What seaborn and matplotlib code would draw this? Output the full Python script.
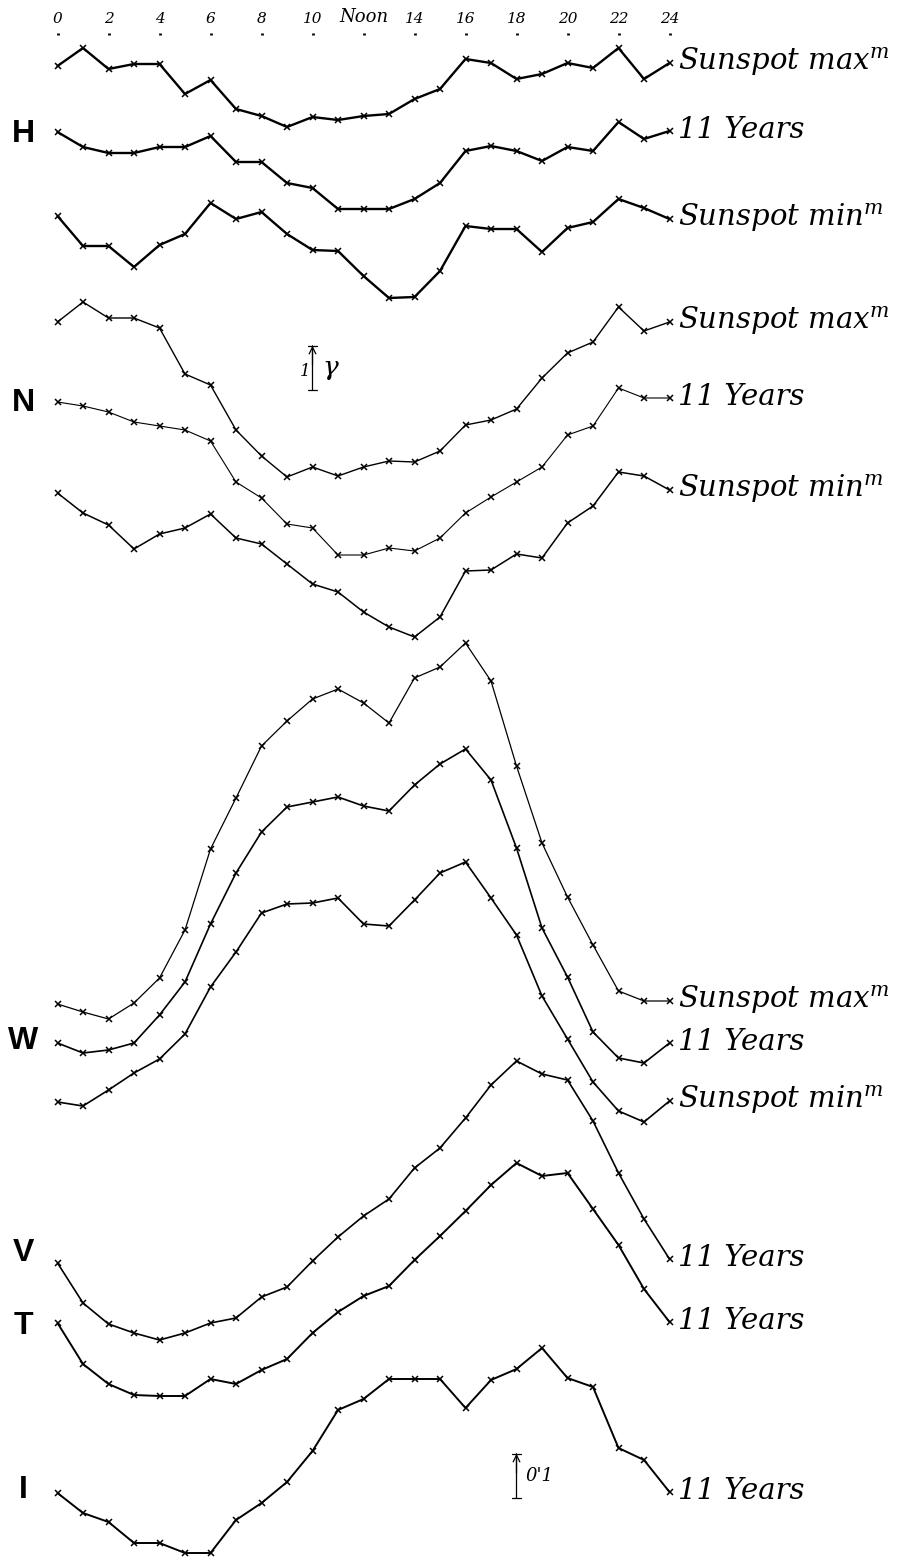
import matplotlib
matplotlib.use("Agg")
import numpy as np
import pandas as pd
import matplotlib.pyplot as plt
import seaborn as sns

HOURS = list(range(25))
TICK_HOURS  = list(range(0, 25, 2))
TICK_LABELS = ['0', '2', '4', '6', '8', '10', 'Noon', '14', '16', '18', '20', '22', '24']

# Departures from the midnight (hour 0) value.
# H, N, W, V, T in gamma; I in minutes of arc.
H_MAX = [0, 0.36, -0.06, 0.04, 0.04, -0.56, -0.28, -0.86, -1.00, -1.22, -1.02, -1.08, -1.00,
         -0.96, -0.66, -0.46, 0.14, 0.06, -0.26, -0.16, 0.06, -0.04, 0.36, -0.26, 0.06]
H_11Y = [0, -0.30, -0.42, -0.42, -0.30, -0.30, -0.08, -0.60, -0.60, -1.02, -1.12, -1.54, -1.54,
         -1.54, -1.34, -1.02, -0.38, -0.28, -0.38, -0.58, -0.30, -0.38, 0.20, -0.14, 0.02]
H_MIN = [0, -0.60, -0.60, -1.02, -0.58, -0.36, 0.26, -0.06, 0.08, -0.36, -0.68, -0.70, -1.20,
         -1.64, -1.62, -1.10, -0.20, -0.26, -0.26, -0.72, -0.24, -0.12, 0.34, 0.16, -0.06]

N_MAX = [0, 0.40, 0.08, 0.08, -0.12, -1.04, -1.26, -2.16, -2.68, -3.10, -2.90, -3.08, -2.90,
         -2.78, -2.80, -2.58, -2.06, -1.96, -1.74, -1.12, -0.62, -0.40, 0.30, -0.18, 0.00]
N_11Y = [0, -0.08, -0.20, -0.40, -0.48, -0.56, -0.78, -1.60, -1.92, -2.44, -2.52, -3.06, -3.06,
         -2.92, -2.98, -2.72, -2.22, -1.90, -1.60, -1.30, -0.66, -0.48, 0.28, 0.08, 0.08]
N_MIN = [0, -0.40, -0.64, -1.12, -0.82, -0.70, -0.42, -0.90, -1.02, -1.42, -1.82, -1.98, -2.38,
         -2.68, -2.88, -2.48, -1.56, -1.54, -1.22, -1.30, -0.60, -0.26, 0.42, 0.34, 0.06]

W_MAX = [0, -0.16, -0.30, 0.02, 0.52, 1.48, 3.10, 4.12, 5.16, 5.66, 6.10, 6.30, 6.02,
         5.62, 6.52, 6.74, 7.22, 6.46, 4.76, 3.22, 2.14, 1.18, 0.26, 0.06, 0.06]
W_11Y = [0, -0.20, -0.14, 0.00, 0.56, 1.22, 2.38, 3.40, 4.22, 4.72, 4.82, 4.92, 4.74,
         4.64, 5.16, 5.58, 5.88, 5.26, 3.90, 2.30, 1.32, 0.22, -0.30, -0.40, 0.00]
W_MIN = [0, -0.08, 0.24, 0.58, 0.86, 1.36, 2.30, 3.00, 3.78, 3.96, 3.98, 4.08, 3.56,
         3.52, 4.04, 4.58, 4.80, 4.08, 3.34, 2.12, 1.26, 0.40, -0.18, -0.40, 0.02]

V_11Y = [0, -0.80, -1.22, -1.40, -1.54, -1.40, -1.20, -1.10, -0.68, -0.48, 0.04, 0.52, 0.94,
         1.28, 1.90, 2.30, 2.90, 3.56, 4.04, 3.78, 3.66, 2.84, 1.80, 0.88, 0.08]
T_11Y = [0, -0.82, -1.22, -1.44, -1.46, -1.46, -1.12, -1.22, -0.94, -0.72, -0.20, 0.22, 0.54,
         0.74, 1.26, 1.74, 2.24, 2.76, 3.20, 2.94, 3.00, 2.28, 1.56, 0.68, 0.02]
I_11Y = [0, -0.040, -0.058, -0.100, -0.100, -0.120, -0.120, -0.054, -0.020, 0.022, 0.084,
         0.166, 0.188, 0.228, 0.228, 0.228, 0.170, 0.226, 0.248, 0.290, 0.230, 0.212, 0.090,
         0.066, 0.002]

MAX_LABEL = "Sunspot max$^{m}$"
MIN_LABEL = "Sunspot min$^{m}$"
YRS_LABEL = "11 Years"

# plate layout: pixel rows of each curve's midnight value, scale in px per unit
PX_PER_GAMMA  = 50
PX_PER_MINUTE = 500
X0_PX, PX_PER_HOUR = 57.5, 25.5
W_PX, H_PX, TOP_PX = 923, 1560, 35

curves = [
    # values, base row, px/unit, label, line width
    (H_MAX, 66,   PX_PER_GAMMA,  MAX_LABEL, 1.7),
    (H_11Y, 132,  PX_PER_GAMMA,  YRS_LABEL, 1.7),
    (H_MIN, 216,  PX_PER_GAMMA,  MIN_LABEL, 1.7),
    (N_MAX, 322,  PX_PER_GAMMA,  MAX_LABEL, 1.0),
    (N_11Y, 402,  PX_PER_GAMMA,  YRS_LABEL, 0.8),
    (N_MIN, 493,  PX_PER_GAMMA,  MIN_LABEL, 1.1),
    (W_MAX, 1004, PX_PER_GAMMA,  MAX_LABEL, 0.9),
    (W_11Y, 1043, PX_PER_GAMMA,  YRS_LABEL, 1.2),
    (W_MIN, 1102, PX_PER_GAMMA,  MIN_LABEL, 1.2),
    (V_11Y, 1263, PX_PER_GAMMA,  YRS_LABEL, 1.2),
    (T_11Y, 1323, PX_PER_GAMMA,  YRS_LABEL, 1.4),
    (I_11Y, 1493, PX_PER_MINUTE, YRS_LABEL, 1.4),
]

elements = [('H', 134), ('N', 403), ('W', 1041), ('V', 1253), ('T', 1326), ('I', 1490)]

sns.set_theme(style="white")
plt.rcParams['font.family'] = ['DejaVu Serif']
plt.rcParams['mathtext.fontset'] = 'dejavuserif'
plt.rcParams['text.color'] = 'black'
plt.rcParams['xtick.color'] = 'black'
plt.rcParams['xtick.labelcolor'] = 'black'

fig = plt.figure(figsize=(W_PX / 100, H_PX / 100), dpi=100)
ax = fig.add_axes([0, 0, 1, (H_PX - TOP_PX) / H_PX])
ax.set_xlim(-X0_PX / PX_PER_HOUR, (W_PX - X0_PX) / PX_PER_HOUR)
ax.set_ylim(H_PX, TOP_PX)

for vals, base, scale, label, lw in curves:
    df = pd.DataFrame({'hour': HOURS, 'value': vals})
    df['row'] = base - df['value'] * scale
    sns.lineplot(data=df, x='hour', y='row', ax=ax, color='black', lw=lw,
                 marker='x', markersize=5, markeredgewidth=1.1,
                 markeredgecolor='black', estimator=None, sort=False)
    ax.annotate(label, (HOURS[-1], df['row'].iloc[-1]), xytext=(6, 1),
                textcoords='offset points', va='center', ha='left',
                fontsize=21, style='italic', family='DejaVu Serif', color='black')

for letter, row in elements:
    ax.text(-1.35, row, letter, ha='center', va='center', fontsize=23,
            fontweight='bold', family='Liberation Sans', color='black')

# scale bars: 1 gamma beside N, 0'.1 beside I
for hour, bottom, length, label, dx, fs in [(10, 393, PX_PER_GAMMA, 'γ', 0.7, 19),
                                            (18, 1501, PX_PER_MINUTE * 0.1, "0'1", 0.9, 13)]:
    ax.annotate('', xy=(hour, bottom - length), xytext=(hour, bottom),
                arrowprops=dict(arrowstyle='|-|,widthA=0.25,widthB=0.25', lw=0.9, color='black'))
    ax.annotate('', xy=(hour, bottom - length), xytext=(hour, bottom - length / 2),
                arrowprops=dict(arrowstyle='->', lw=0.9, color='black'))
    ax.text(hour + dx, bottom - length / 2, label, ha='center', va='center',
            fontsize=fs, style='italic')
ax.text(10 - 0.3, 393 - PX_PER_GAMMA / 2 + 3, '1', ha='center', va='center',
        fontsize=12, style='italic')

# hour scale along the top
ax.xaxis.tick_top()
ax.set_xticks(TICK_HOURS)
ax.set_xticklabels(TICK_LABELS, fontsize=11, style='italic')
ax.get_xticklabels()[6].set_fontsize(13)
ax.tick_params(axis='x', top=True, bottom=False, direction='out', length=1.5,
               width=2.0, pad=5, color='black', labelcolor='black')
ax.set_yticks([])
ax.set_xlabel('')
ax.set_ylabel('')
sns.despine(ax=ax, left=True, bottom=True, right=True, top=True)

fig.savefig("out.png", dpi=100)
